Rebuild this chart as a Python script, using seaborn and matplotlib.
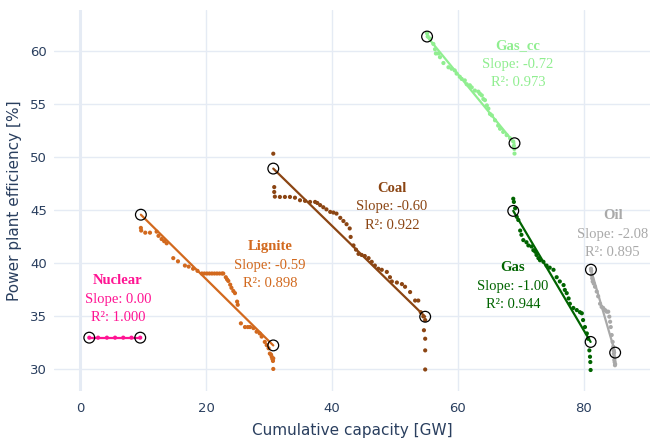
import numpy as np
import pandas as pd
import matplotlib
matplotlib.use("Agg")
import matplotlib.pyplot as plt
import seaborn as sns

# ---------------- data ----------------
technologies = ["Nuclear", "Lignite", "Coal", "Gas_cc", "Gas", "Oil"]

nuclear_x = [1.4, 2.8, 4.2, 5.5, 6.8, 8.1, 9.5]
nuclear_y = [33.0, 33.0, 33.0, 33.0, 33.0, 33.0, 33.0]

lignite_x = [9.6, 9.65, 10.3, 11.05, 12.1, 12.4, 12.9, 13.3, 13.7, 14.75, 15.5, 16.6,
             17.2, 17.9, 18.6, 19.3, 19.7, 20.1, 20.5, 20.9, 21.3, 21.7, 22.1, 22.5,
             22.7, 23.1, 23.3, 23.5, 23.8, 24.0, 24.3, 24.56, 24.9, 25.0, 25.5, 26.15,
             26.6, 26.95, 27.5, 28.0, 28.5, 28.8, 29.3, 29.6, 29.9, 30.1, 30.3, 30.4,
             30.5, 30.6, 30.65, 30.65]
lignite_y = [43.35, 43.1, 42.9, 42.9, 43.0, 42.6, 42.3, 42.1, 41.9, 40.5, 40.2, 39.8,
             39.7, 39.5, 39.3, 39.05, 39.05, 39.05, 39.05, 39.05, 39.05, 39.05, 39.05, 39.05,
             39.05, 38.7, 38.5, 38.35, 38.0, 37.7, 37.4, 37.2, 36.4, 36.1, 34.35, 34.0,
             34.0, 34.0, 33.9, 33.56, 33.4, 33.1, 32.6, 32.3, 32.0, 31.5, 31.4, 31.2,
             31.0, 30.8, 31.05, 30.05]

coal_x = [30.65, 30.8, 30.8, 30.9, 31.7, 32.5, 33.3, 34.1, 34.9, 35.7, 36.5, 37.3,
          37.65, 38.1, 38.6, 39.1, 39.7, 40.2, 40.7, 41.3, 41.8, 42.3, 42.8, 42.95,
          43.4, 43.8, 44.2, 44.7, 45.2, 45.8, 46.3, 46.8, 47.35, 47.9, 48.7, 49.2,
          49.5, 50.3, 51.1, 51.6, 52.4, 53.2, 53.7, 54.1, 54.5, 54.8, 54.6, 54.8,
          54.8, 54.8]
coal_y = [50.35, 47.2, 46.74, 46.3, 46.27, 46.27, 46.27, 46.2, 45.96, 45.9, 45.8, 45.8,
          45.7, 45.5, 45.3, 45.1, 44.86, 44.8, 44.7, 44.3, 44.0, 43.7, 43.3, 42.5,
          41.7, 41.3, 40.9, 40.8, 40.7, 40.5, 40.15, 39.8, 39.5, 39.4, 39.2, 38.7,
          38.3, 38.2, 38.05, 37.8, 37.3, 36.5, 36.5, 35.4, 35.0, 34.66, 33.7, 32.9,
          31.8, 30.0]

gascc_x = [55.1, 55.2, 55.57, 56.1, 56.36, 56.5, 56.9, 57.15, 57.7, 58.5, 59.0, 59.5,
           59.8, 60.3, 60.6, 61.1, 61.4, 61.9, 62.2, 62.7, 63.25, 63.5, 63.8, 64.05,
           64.3, 64.6, 64.85, 65.1, 65.4, 65.9, 66.4, 66.7, 67.2, 67.75, 68.3, 68.8,
           68.9, 68.97, 69.0]
gascc_y = [61.7, 61.4, 61.2, 60.7, 60.2, 59.8, 59.8, 59.45, 58.9, 58.5, 58.36, 58.2,
           57.9, 57.6, 57.4, 57.26, 56.9, 56.8, 56.6, 56.3, 56.2, 56.0, 55.85, 55.5,
           55.4, 54.9, 54.6, 54.1, 53.96, 53.5, 53.0, 52.7, 52.4, 52.1, 51.8, 51.5,
           51.1, 50.8, 50.36]

gas_x = [68.8, 68.9, 69.1, 69.35, 69.6, 69.9, 70.1, 70.4, 70.9, 71.2, 71.7, 72.0,
         72.3, 72.5, 72.8, 73.05, 73.6, 74.1, 74.6, 75.2, 75.7, 76.2, 76.8, 77.0,
         77.3, 77.6, 77.8, 78.35, 78.9, 79.4, 79.7, 79.9, 80.2, 80.5, 80.7, 80.9,
         81.0, 81.05, 81.1]
gas_y = [46.1, 45.8, 45.2, 44.4, 44.1, 43.1, 42.7, 42.2, 42.0, 41.7, 41.6, 41.25,
         41.1, 40.8, 40.5, 40.3, 40.15, 39.8, 39.6, 39.4, 38.7, 38.3, 37.96, 37.5,
         37.2, 36.7, 36.2, 35.8, 35.6, 35.4, 35.3, 34.66, 34.0, 33.4, 32.9, 31.8,
         31.2, 30.7, 29.95]

oil_x = [81.15, 81.2, 81.27, 81.35, 81.43, 81.6, 81.8, 82.07, 82.3, 82.6, 82.85, 83.1,
         83.4, 83.65, 83.9, 84.07, 84.2, 84.3, 84.45, 84.6, 84.7, 84.75, 84.8, 84.85,
         84.87, 84.92, 84.97, 85.0]
oil_y = [39.5, 39.3, 38.9, 38.6, 38.3, 38.1, 37.8, 37.35, 36.9, 36.2, 35.9, 35.8,
         35.6, 35.45, 35.45, 34.98, 34.5, 34.0, 33.25, 32.6, 32.15, 31.8, 31.5, 31.2,
         30.9, 30.7, 30.4, 30.5]

slope_labels = ["Slope: 0.00", "Slope: -0.59", "Slope: -0.60",
                "Slope: -0.72", "Slope: -1.00", "Slope: -2.08"]
r2_labels = ["R²: 1.000", "R²: 0.898", "R²: 0.922",
             "R²: 0.973", "R²: 0.944", "R²: 0.895"]

x_ticks = [0, 20, 40, 60, 80]
y_ticks = [30, 35, 40, 45, 50, 55, 60]

# ---------------- styling / layout ----------------
colors = {"Nuclear": "#FF1493", "Lignite": "#D2691E", "Coal": "#8B4513",
          "Gas_cc": "#90EE90", "Gas": "#006400", "Oil": "#A9A9A9"}
label_pos = {"Nuclear": (5.95, 38.35), "Lignite": (30.1, 41.55), "Coal": (49.5, 47.1),
             "Gas_cc": (69.55, 60.5), "Gas": (68.75, 39.6), "Oil": (84.6, 44.5)}

series = {"Nuclear": (nuclear_x, nuclear_y), "Lignite": (lignite_x, lignite_y),
          "Coal": (coal_x, coal_y), "Gas_cc": (gascc_x, gascc_y),
          "Gas": (gas_x, gas_y), "Oil": (oil_x, oil_y)}

df = pd.concat([pd.DataFrame({"capacity": x, "efficiency": y, "tech": t})
                for t, (x, y) in series.items()], ignore_index=True)

sns.set_theme(style="white")
plt.rcParams["font.family"] = ["DejaVu Sans"]
text_color = "#2a3f5f"
grid_color = "#E5EBF4"

fig = plt.figure(figsize=(6.5, 4.43), dpi=100)
ax = fig.add_axes([54 / 650, 52 / 443, 596 / 650, 381 / 443])

ax.set_xlim(-4.21, 90.54)
ax.set_ylim(27.97, 63.9)
ax.set_xticks(x_ticks)
ax.set_yticks(y_ticks)
ax.grid(True, color=grid_color, linewidth=1.0)
ax.axvline(0, color=grid_color, linewidth=2.2, zorder=0.5)
ax.set_axisbelow(True)
for s in ax.spines.values():
    s.set_visible(False)
ax.tick_params(axis="both", length=0, labelsize=9.5, colors=text_color)
ax.tick_params(axis="x", pad=8)
ax.tick_params(axis="y", pad=5)

sns.scatterplot(data=df, x="capacity", y="efficiency", hue="tech",
                palette=colors, s=9, linewidth=0, legend=False, ax=ax, zorder=3)

for i, t in enumerate(technologies):
    sub = df[df.tech == t]
    c = colors[t]
    sns.regplot(data=sub, x="capacity", y="efficiency", scatter=False, ci=None,
                truncate=True, color=c, line_kws={"linewidth": 1.6, "zorder": 4}, ax=ax)
    slope, icpt = np.polyfit(sub.capacity, sub.efficiency, 1)
    xe = np.array([sub.capacity.min(), sub.capacity.max()])
    ax.scatter(xe, slope * xe + icpt, s=60, facecolors="none", edgecolors="black",
               linewidths=0.9, zorder=5)
    lx, ly = label_pos[t]
    ax.annotate(t, (lx, ly), ha="center", va="center", color=c, fontsize=10.5,
                fontweight="bold", family="Liberation Serif", zorder=6)
    ax.annotate(slope_labels[i], (lx, ly), xytext=(0, -13.3), textcoords="offset points",
                ha="center", va="center", color=c, fontsize=10.5,
                family="Liberation Serif", zorder=6)
    ax.annotate(r2_labels[i], (lx, ly), xytext=(0, -26.6), textcoords="offset points",
                ha="center", va="center", color=c, fontsize=10.5,
                family="Liberation Serif", zorder=6)

ax.set_xlabel("Cumulative capacity [GW]", fontsize=11, color=text_color, labelpad=6)
ax.set_ylabel("Power plant efficiency [%]", fontsize=11, color=text_color, labelpad=6)

fig.savefig("out.png", dpi=100)
